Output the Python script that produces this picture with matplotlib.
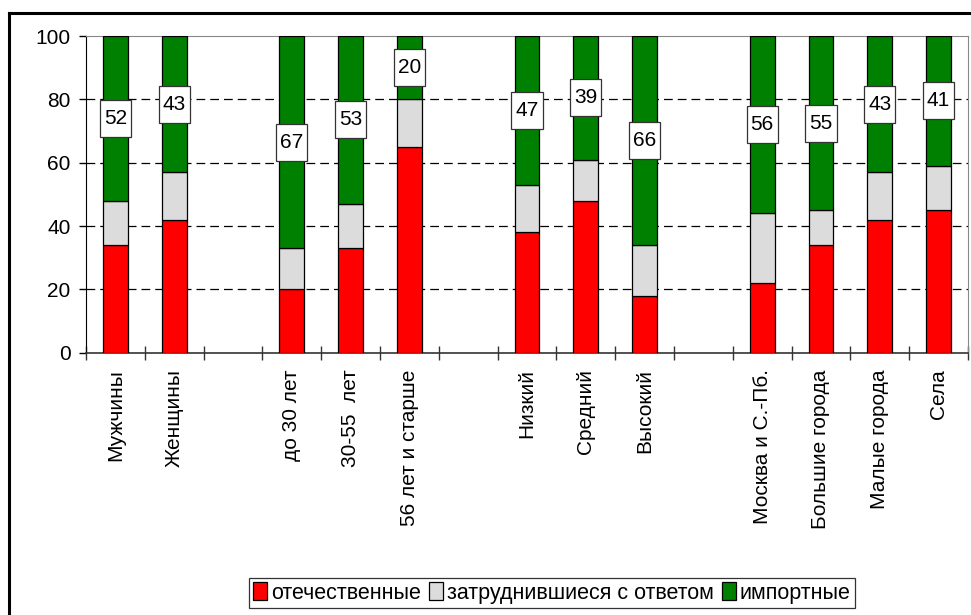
import matplotlib.pyplot as plt
from matplotlib.lines import Line2D
from matplotlib.patches import Rectangle

plt.rcParams['font.family'] = ['Liberation Sans', 'DejaVu Sans']

# группы категорий (между группами - пустой слот)
groups = [
    ['Мужчины', 'Женщины'],
    ['до 30 лет', '30-55  лет', '56 лет и старше'],
    ['Низкий', 'Средний', 'Высокий'],
    ['Москва и С.-Пб.', 'Большие города', 'Малые города', 'Села'],
]
otech = [34, 42, 20, 33, 65, 38, 48, 18, 22, 34, 42, 45]
zatr = [14, 15, 13, 14, 15, 15, 13, 16, 22, 11, 15, 14]
import_ = [52, 43, 67, 53, 20, 47, 39, 66, 56, 55, 43, 41]

# позиции столбцов
pos = []
labels = []
slot = 0
for g in groups:
    for name in g:
        pos.append(slot)
        labels.append(name)
        slot += 1
    slot += 1
nslots = slot - 1

fig = plt.figure(figsize=(9.71, 6.15), dpi=100)
ax = fig.add_axes([86 / 971, 262.3 / 615, 882 / 971, 316.7 / 615])

w = 0.42
bottom2 = [a + b for a, b in zip(otech, zatr)]
ax.bar(pos, otech, w, color='#FF0000', edgecolor='black', linewidth=0.9,
       label='отечественные', zorder=3)
ax.bar(pos, zatr, w, bottom=otech, color='#DCDCDC', edgecolor='black',
       linewidth=0.9, label='затруднившиеся с ответом', zorder=3)
ax.bar(pos, import_, w, bottom=bottom2, color='#008000', edgecolor='black',
       linewidth=0.9, label='импортные', zorder=3)

# подписи - белые рамки в середине зелёного сегмента
bw, bh = 0.53, 11.7
for x, b, v in zip(pos, bottom2, import_):
    yc = b + v / 2
    ax.add_patch(Rectangle((x - bw / 2, yc - bh / 2), bw, bh,
                           facecolor='white', edgecolor='#333333',
                           linewidth=0.9, zorder=4))
    ax.text(x, yc, str(v), ha='center', va='center', fontsize=15, zorder=5)

ax.set_xlim(-0.5, nslots - 0.5)
ax.set_ylim(0, 100)
ax.set_yticks([0, 20, 40, 60, 80, 100])
ax.tick_params(axis='y', labelsize=15, length=5, width=1, pad=6,
               direction='out')
ax.set_xticks(pos)
ax.set_xticklabels(labels, rotation=90, fontsize=15)
ax.tick_params(axis='x', which='major', length=0, pad=12)
ax.set_xticks([i - 0.5 for i in range(nslots + 1)], minor=True)
ax.tick_params(axis='x', which='minor', length=9.5, width=1,
               direction='inout', color='#333333')

for yv in [20, 40, 60, 80]:
    ax.axhline(yv, color='black', linewidth=0.9, dashes=(7, 4), zorder=1)

ax.spines['top'].set_color('#888888')
ax.spines['right'].set_color('#888888')
ax.spines['left'].set_color('black')
ax.spines['bottom'].set_color('#333333')
ax.spines['bottom'].set_linewidth(1.2)

# рамка вокруг диаграммы
fig.add_artist(Line2D([8.5 / 971, 8.5 / 971], [0, 1 - 12.5 / 615],
                      transform=fig.transFigure, color='black', linewidth=2.2))
fig.add_artist(Line2D([8.5 / 971, 1], [1 - 12.5 / 615, 1 - 12.5 / 615],
                      transform=fig.transFigure, color='black', linewidth=2.2))

leg = fig.legend(loc='center', bbox_to_anchor=(552 / 971, 22 / 615), ncol=3,
                 fontsize=15.5, frameon=True, fancybox=False, edgecolor='black',
                 handlelength=0.65, handleheight=0.9, handletextpad=0.2,
                 columnspacing=0.35, borderpad=0.2, borderaxespad=0)
leg.get_frame().set_linewidth(0.9)

fig.savefig('out.png', dpi=100)
